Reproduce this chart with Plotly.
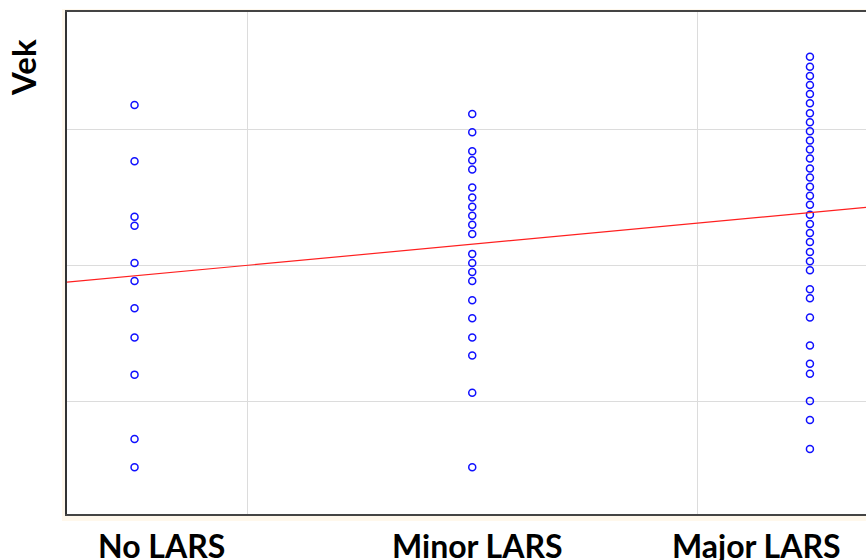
import plotly.graph_objects as go

categories = ["No LARS", "Minor LARS", "Major LARS"]
cat_pos = [1, 2, 3]

no_lars = [77.7, 71.5, 65.4, 64.4, 60.3, 58.3, 55.3, 52.1, 48.0, 40.9, 37.8]
minor_lars = [76.7, 74.7, 72.6, 71.6, 70.6, 68.6, 67.5, 66.5, 65.5, 64.5, 63.5,
              61.3, 60.3, 59.3, 58.3, 56.2, 54.2, 52.1, 50.1, 46.0, 37.8]
major_lars = [83.0, 81.9, 80.9, 79.9, 78.9, 77.9, 76.8, 75.8, 74.8, 73.8, 72.8,
              71.8, 70.7, 69.7, 68.7, 67.7, 66.7, 65.6, 64.6, 63.6, 62.6, 61.5,
              60.5, 59.5, 57.4, 56.4, 54.3, 51.2, 49.2, 48.1, 45.1, 43.0, 39.8]

trend_intercept = 55.4
trend_slope = 3.48

y_grid = [45, 60, 75]
x_grid = [4 / 3, 8 / 3]
x_range = [0.8, 3.166]
y_range = [32.65, 87.94]

groups = [no_lars, minor_lars, major_lars]
xs, ys = [], []
for p, g in zip(cat_pos, groups):
    xs += [p] * len(g)
    ys += g

fig = go.Figure()
fig.add_trace(go.Scatter(
    x=xs, y=ys, mode="markers",
    marker=dict(symbol="circle-open", size=7, color="#1010ff",
                line=dict(width=1.5, color="#1010ff")),
    showlegend=False, hoverinfo="skip"))
fig.add_trace(go.Scatter(
    x=x_range, y=[trend_intercept + trend_slope * v for v in x_range],
    mode="lines", line=dict(color="#ff2020", width=1.2),
    showlegend=False, hoverinfo="skip"))

fig.update_layout(
    width=866, height=560,
    margin=dict(l=67, r=0, t=12, b=46),
    paper_bgcolor="white", plot_bgcolor="white",
    xaxis=dict(range=x_range, tickvals=x_grid, showticklabels=False,
               showgrid=True, gridcolor="#dcdcdc", gridwidth=1.3,
               zeroline=False, ticks="", showline=True, linecolor="#444444",
               linewidth=2, mirror=True),
    yaxis=dict(range=y_range, tickvals=y_grid, showticklabels=False,
               showgrid=True, gridcolor="#dcdcdc", gridwidth=1.3,
               zeroline=False, ticks="", showline=True, linecolor="#333333",
               linewidth=2, mirror=False),
)

cream = "#fff8ec"
for x0, x1, y0, y1 in [(-5 / 799, 0, -7 / 502, 1 + 3 / 502),
                       (0, 1, -7 / 502, 0),
                       (0, 1, 1, 1 + 3 / 502)]:
    fig.add_shape(type="rect", xref="paper", yref="paper",
                  x0=x0, x1=x1, y0=y0, y1=y1,
                  fillcolor=cream, line=dict(width=0), layer="below")

label_x = [161.5, 477, 756.5]
for lab, px in zip(categories, label_x):
    fig.add_annotation(text=lab, xref="paper", yref="paper",
                       x=(px - 67) / 799, y=-31 / 502, xanchor="center",
                       yanchor="middle", showarrow=False,
                       font=dict(family="Lato", size=32, color="black", weight="bold"))

fig.add_annotation(text="Vek", xref="paper", yref="paper",
                   x=(23 - 67) / 799, y=(514 - 68) / 502, xanchor="center",
                   yanchor="middle", textangle=-90, showarrow=False,
                   font=dict(family="Lato", size=33, color="black", weight="bold"))

fig.write_html("out.html")
